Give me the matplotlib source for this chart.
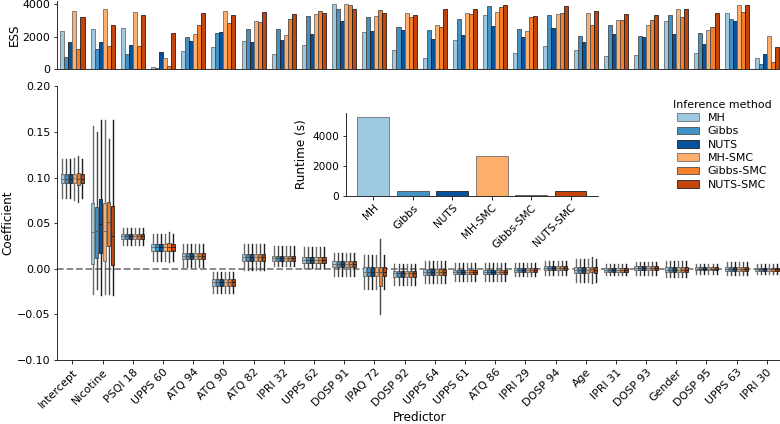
import numpy as np
import matplotlib.pyplot as plt

methods = ['MH', 'Gibbs', 'NUTS', 'MH-SMC', 'Gibbs-SMC', 'NUTS-SMC']
method_colors = ['#9ecae1', '#4292c6', '#08519c', '#fdae6b', '#f67f2c', '#c4440a']
edge_colors = ['#6a6a6a', '#474747', '#1c1c1c', '#6a6a6a', '#474747', '#1c1c1c']

predictors = ['Intercept', 'Nicotine', 'PSQI 18', 'UPPS 60', 'ATQ 94', 'ATQ 90',
              'ATQ 82', 'IPRI 32', 'UPPS 62', 'DOSP 91', 'IPAQ 72', 'DOSP 92',
              'UPPS 64', 'UPPS 61', 'ATQ 86', 'IPRI 29', 'DOSP 94', 'Age',
              'IPRI 31', 'DOSP 93', 'Gender', 'DOSP 95', 'UPPS 63', 'IPRI 30']

# effective sample size per method
ess_mh = [2350, 2450, 2510, 120, 1140, 1390, 1750, 920, 1490, 3980, 2270, 1180,
          670, 1800, 3330, 1020, 1450, 1180, 820, 880, 2980, 1000, 3430, 670]
ess_gibbs = [750, 1220, 960, 60, 1960, 2250, 2450, 2450, 3270, 3670, 3200, 2570,
             2390, 3080, 3900, 2490, 3350, 2020, 2710, 2060, 3350, 2250, 3060, 290]
ess_nuts = [1670, 1670, 1490, 1080, 1750, 2270, 1670, 1800, 2180, 2980, 2330, 2430,
            1860, 2100, 2670, 1980, 2530, 1690, 2140, 1960, 2160, 1570, 2960, 940]
ess_mh_smc = [3590, 3710, 3490, 710, 2140, 3590, 2940, 2080, 3390, 3980, 3250, 3450,
              2710, 3450, 3490, 2330, 3370, 3450, 3020, 2710, 3710, 2390, 3920, 2020]
ess_gibbs_smc = [1220, 1410, 1430, 180, 2690, 2860, 2920, 3060, 3590, 3960, 3650, 3200,
                 2590, 3410, 3840, 3180, 3430, 2710, 3020, 3020, 3180, 2570, 3490, 430]
ess_nuts_smc = [3180, 2710, 3350, 2220, 3450, 3350, 3510, 3370, 3470, 3670, 3450, 3310,
                3670, 3670, 3920, 3250, 3880, 3550, 3370, 3350, 3670, 3450, 3920, 1370]
ess_all = [ess_mh, ess_gibbs, ess_nuts, ess_mh_smc, ess_gibbs_smc, ess_nuts_smc]

runtime = [5240, 320, 295, 2650, 25, 320]

# box statistics per predictor (shared by methods unless overridden)
q1 = [0.094, 0.0055, 0.033, 0.0195, 0.011, -0.0184, 0.0084, 0.0084, 0.0062, 0.0018,
      -0.0074, -0.0085, -0.0063, -0.0055, -0.0055, -0.0037, -0.0011, -0.0044,
      -0.0037, -0.0018, -0.004, -0.0018, -0.0026, -0.0026]
med = [0.099, 0.040, 0.0355, 0.0235, 0.0145, -0.015, 0.013, 0.0115, 0.010, 0.0055,
       -0.003, -0.005, -0.003, -0.003, -0.003, -0.001, 0.0012, -0.001,
       -0.0013, 0.0004, -0.001, 0.0, -0.0004, -0.0007]
q3 = [0.1045, 0.0727, 0.0378, 0.0275, 0.0172, -0.0117, 0.0165, 0.0146, 0.0135, 0.0091,
      0.0018, -0.0019, 0.0, -0.0008, -0.0008, 0.0007, 0.0036, 0.0018,
      0.0011, 0.0026, 0.0018, 0.0018, 0.0018, 0.0011]
whis_lo = [0.078, -0.0275, 0.0257, 0.009, 0.002, -0.0264, -0.001, 0.0032, 0.0013, -0.0074,
           -0.022, -0.018, -0.016, -0.0129, -0.013, -0.008, -0.0066, -0.0147,
           -0.0073, -0.0066, -0.0092, -0.0055, -0.0066, -0.0055]
whis_hi = [0.120, 0.157, 0.045, 0.0385, 0.0275, -0.0037, 0.0275, 0.0246, 0.0238, 0.0176,
           0.0157, 0.0055, 0.0084, 0.006, 0.0065, 0.006, 0.009, 0.011,
           0.0055, 0.0073, 0.009, 0.0055, 0.0073, 0.0048]
# (predictor, method): q1, med, q3, lo, hi
box_overrides = {
    (0, 3): (0.094, 0.0995, 0.1045, 0.075, 0.122),
    (0, 4): (0.092, 0.098, 0.105, 0.073, 0.124),
    (1, 1): (0.012, 0.041, 0.068, -0.022, 0.150),
    (1, 2): (0.017, 0.0496, 0.077, -0.029, 0.163),
    (1, 3): (0.009, 0.042, 0.072, -0.0275, 0.163),
    (1, 4): (0.025, 0.051, 0.073, -0.0275, 0.142),
    (1, 5): (0.0044, 0.0356, 0.0686, -0.029, 0.163),
    (3, 4): (0.019, 0.024, 0.028, 0.008, 0.040),
    (10, 4): (-0.0191, -0.004, 0.0018, -0.0496, 0.033),
    (17, 4): (-0.004, -0.0005, 0.0025, -0.016, 0.013),
}

fig = plt.figure(figsize=(780 / 72, 424 / 72), dpi=72)
ax_ess = fig.add_axes([0.0735, 0.837, 0.929, 0.161])
ax = fig.add_axes([0.0735, 0.151, 0.929, 0.645])
ax_rt = fig.add_axes([0.4436, 0.5384, 0.323, 0.1943])

x = np.arange(len(predictors))
n = len(methods)
slot = 0.8 / n
offsets = (np.arange(n) - (n - 1) / 2) * slot

# ESS bars
for j in range(n):
    ax_ess.bar(x + offsets[j], ess_all[j], width=slot, color=method_colors[j],
               edgecolor=edge_colors[j], linewidth=0.8)
ax_ess.set_xlim(-0.5, len(predictors) - 0.5)
ax_ess.set_ylim(0, 4200)
ax_ess.set_yticks([0, 2000, 4000])
ax_ess.set_xticks([])
ax_ess.set_ylabel('ESS', fontsize=12, labelpad=2)
ax_ess.tick_params(labelsize=11)
for s in ['top', 'right']:
    ax_ess.spines[s].set_visible(False)

# coefficient boxes
ax.axhline(0, color='gray', linestyle='--', linewidth=1.8, zorder=0)
for j in range(n):
    stats = []
    for i in range(len(predictors)):
        vals = box_overrides.get((i, j), (q1[i], med[i], q3[i], whis_lo[i], whis_hi[i]))
        stats.append(dict(q1=vals[0], med=vals[1], q3=vals[2],
                          whislo=vals[3], whishi=vals[4], fliers=[]))
    lc = edge_colors[j]
    ax.bxp(stats, positions=x + offsets[j], widths=slot * 0.8, patch_artist=True,
           showcaps=False, showfliers=False, manage_ticks=False,
           boxprops=dict(facecolor=method_colors[j], edgecolor=lc, linewidth=0.8),
           whiskerprops=dict(color=lc, linewidth=1.4),
           medianprops=dict(color=lc, linewidth=0.9))
ax.set_xlim(-0.5, len(predictors) - 0.5)
ax.set_ylim(-0.1, 0.2)
ax.set_yticks([-0.10, -0.05, 0.00, 0.05, 0.10, 0.15, 0.20])
ax.set_yticklabels(['\u22120.10', '\u22120.05', '0.00', '0.05', '0.10', '0.15', '0.20'])
ax.set_xticks(x)
ax.set_xticklabels(predictors, rotation=45, ha='right', rotation_mode='anchor')
ax.tick_params(labelsize=11)
ax.set_xlabel('Predictor', fontsize=12, labelpad=1)
ax.set_ylabel('Coefficient', fontsize=12, labelpad=2)
for s in ['top', 'right']:
    ax.spines[s].set_visible(False)

# runtime inset
handles = ax_rt.bar(np.arange(n), runtime, width=0.8, color=method_colors,
                    edgecolor=edge_colors, linewidth=0.8)
ax_rt.set_xticks(np.arange(n))
ax_rt.set_xticklabels(methods, rotation=45, ha='right', rotation_mode='anchor')
ax_rt.set_yticks([0, 2000, 4000])
ax_rt.set_ylabel('Runtime (s)', fontsize=12)
ax_rt.tick_params(labelsize=10.5)
for s in ['top', 'right']:
    ax_rt.spines[s].set_visible(False)

fig.legend(handles, methods, title='Inference method', loc='upper left',
           bbox_to_anchor=(0.857, 0.775), frameon=False, fontsize=11,
           title_fontsize=11, labelspacing=0.3, borderaxespad=0)

fig.savefig('out.png', dpi=72)
